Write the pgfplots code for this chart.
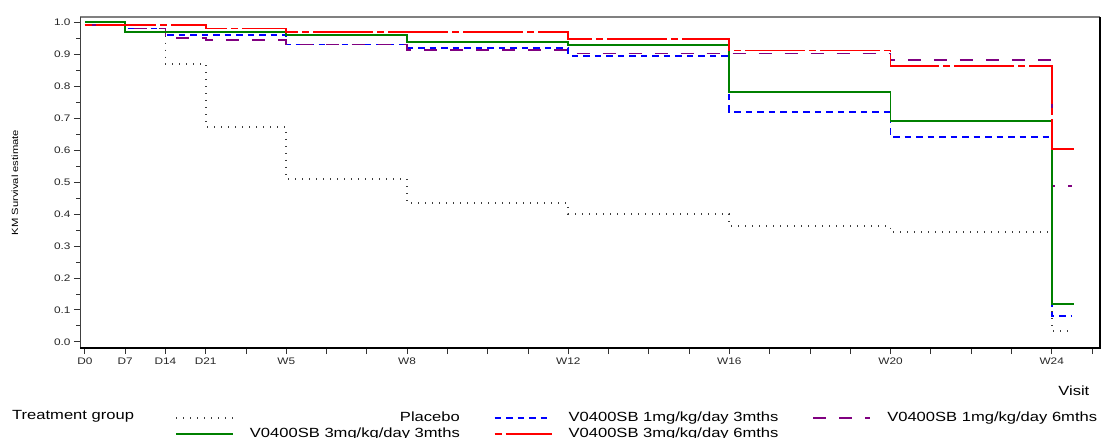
\documentclass[border=0pt]{standalone}
\usepackage{fontspec}
\setmainfont{Liberation Sans}[FakeStretch=1.245]
\usepackage{pgfplots}
\pgfplotsset{compat=1.18}

\definecolor{kmgreen}{RGB}{0,128,0}
\definecolor{kmred}{RGB}{255,0,0}
\definecolor{kmblue}{RGB}{0,0,255}
\definecolor{kmpurple}{RGB}{128,0,128}
\definecolor{kmgrey}{RGB}{60,60,60}

\begin{document}
\begin{tikzpicture}
\useasboundingbox (0pt,0pt) rectangle (1103pt,437pt);
\begin{axis}[
    name=ax,
    at={(80pt,89pt)}, anchor=south west,
    scale only axis,
    width=1020pt, height=331pt,
    xmin=-0.12, xmax=25.2,
    ymin=-0.019, ymax=1.016,
    axis line style={draw=none},
    xtick={0,...,25},
    xticklabels={D0,D7,D14,D21,,W5,,,W8,,,,W12,,,,W16,,,,W20,,,,W24,},
    ytick={0,0.1,0.2,0.3,0.4,0.5,0.6,0.7,0.8,0.9,1.0},
    minor ytick={0.05,0.15,0.25,0.35,0.45,0.55,0.65,0.75,0.85,0.95},
    tick pos=left,
    tick align=outside,
    major tick length=6pt,
    minor tick length=3.5pt,
    tick style={black!80, line width=0.9pt},
    yticklabel style={/pgf/number format/.cd, fixed, fixed zerofill, precision=1},
    /pgf/number format/assume math mode=true,
    tick label style={font=\fontsize{9.5}{11}\selectfont, black!85},
    ylabel={KM Survival estimate},
    ylabel style={at={(axis description cs:-0.0637,0.5)}, anchor=center,
      font=\fontsize{9}{10}\selectfont},
    xlabel={Visit},
    xlabel style={at={(axis description cs:0.993,-0.13)}, anchor=east,
      font=\fontsize{13.3}{15}\selectfont},
    legend columns=3,
    legend cell align=right,
    legend image code/.code={\draw[#1] (0pt,0pt) -- (57pt,0pt);},
    legend style={draw=none, fill=none, at={(0.0931,-0.187)}, anchor=north west,
      inner sep=0pt, font=\fontsize{13.3}{15}\selectfont,
      /tikz/every odd column/.append style={column sep=14pt},
      /tikz/every even column/.append style={column sep=32pt},
      row sep=1pt},
]

% Placebo
\addplot[const plot, color=kmgrey, line width=1.8pt, dash pattern=on 1pt off 6pt] coordinates {
  (0,0.99) (1,0.98) (2,0.87) (3,0.672) (5,0.51) (8,0.435) (12,0.40)
  (16,0.363) (20,0.344) (24,0.034) (24.42,0.034)
};
\addlegendentry{Placebo}

% V0400SB 1mg/kg/day 3mths
\addplot[const plot, color=kmblue, line width=1.8pt, dash pattern=on 6.5pt off 5pt] coordinates {
  (0,0.99) (1,0.98) (2,0.96) (5,0.93) (8,0.918) (12,0.895)
  (16,0.72) (20,0.641) (24,0.081) (24.5,0.081)
};
\addlegendentry{V0400SB 1mg/kg/day 3mths}

% V0400SB 1mg/kg/day 6mths
\addplot[const plot, color=kmpurple, line width=1.8pt, dash pattern=on 13pt off 13pt] coordinates {
  (0,0.99) (1,0.98) (2,0.951) (3,0.943) (5,0.93) (8,0.9125) (12,0.902)
  (20,0.881) (24,0.488) (24.5,0.488)
};
\addlegendentry{V0400SB 1mg/kg/day 6mths}

% V0400SB 3mg/kg/day 3mths
\addplot[const plot, color=kmgreen, line width=1.8pt] coordinates {
  (0,1.0) (1,0.969) (5,0.959) (8,0.938) (12,0.929) (16,0.781)
  (20,0.69) (24,0.118) (24.55,0.118)
};
\addlegendentry{V0400SB 3mg/kg/day 3mths}

% V0400SB 3mg/kg/day 6mths
\addplot[const plot, color=kmred, line width=1.8pt, dash pattern=on 7pt off 4pt on 60pt off 4pt] coordinates {
  (0,0.992) (3,0.98) (5,0.968) (12,0.948) (16,0.911) (20,0.862)
  (24,0.603) (24.55,0.603)
};
\addlegendentry{V0400SB 3mg/kg/day 6mths}

\end{axis}
\draw[black!50, line width=1.4pt] (ax.north west) -- (ax.north east);
\draw[black!75, line width=1pt] (ax.south west) -- (ax.north west);
\draw[black, line width=1.1pt] (ax.south west) -- (ax.south east) -- (ax.north east);
\node[anchor=base west, inner sep=0pt, font=\fontsize{13.3}{15}\selectfont]
  at (12pt,17.5pt) {Treatment group};
\end{tikzpicture}
\end{document}
